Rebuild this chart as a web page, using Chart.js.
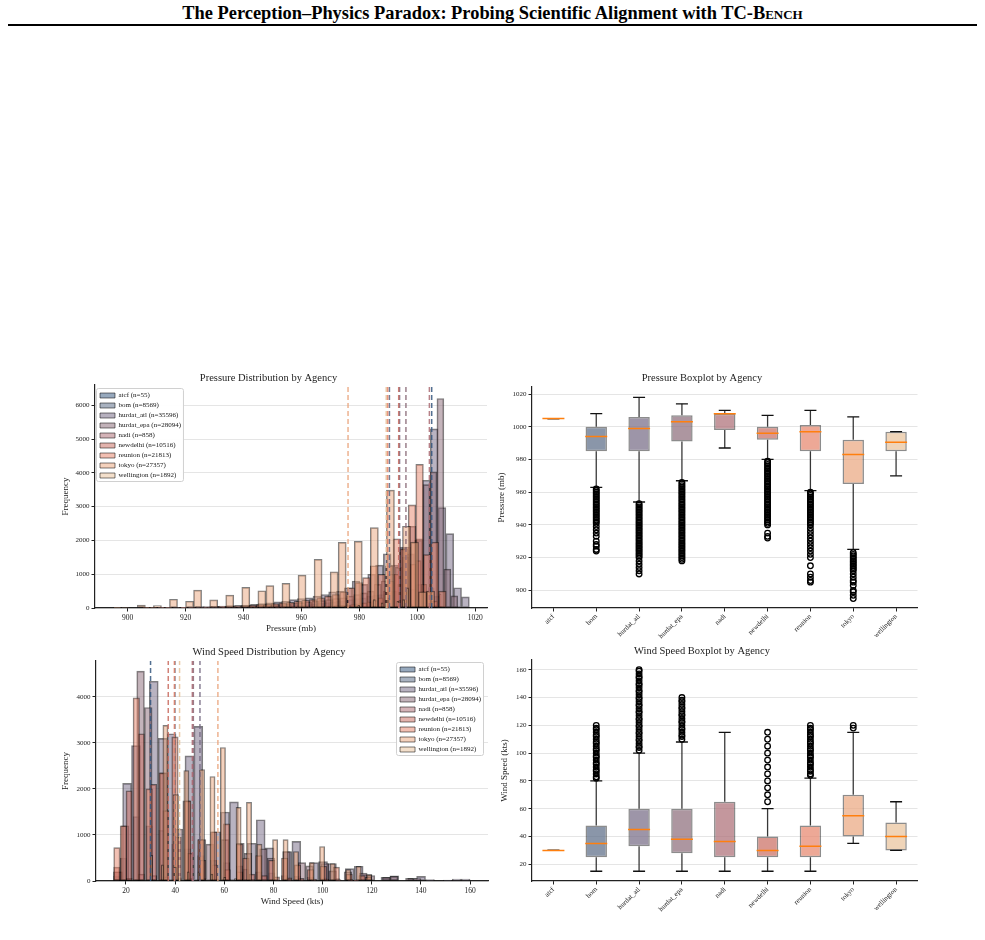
<!DOCTYPE html>
<html><head><meta charset="utf-8">
<script src="https://cdn.jsdelivr.net/npm/chart.js@4"></script>
<style>
body{margin:0;background:#fff;width:985px;height:940px;position:relative;overflow:hidden;font-family:'Liberation Serif','Times New Roman',serif}
.hdr{position:absolute;left:0;top:3px;width:985px;text-align:center;font-weight:bold;font-size:18.4px;color:#000}
.sc{font-variant:small-caps}
.rule{position:absolute;left:8px;top:24px;width:969px;height:2px;background:#000}
canvas{position:absolute}
</style></head><body>
<div class="hdr">The Perception–Physics Paradox: Probing Scientific Alignment with TC-<span class="sc">Bench</span></div>
<div class="rule"></div>
<canvas id="ph" width="445" height="277" style="left:50px;top:363px"></canvas>
<canvas id="pb" width="450" height="285" style="left:480px;top:363px"></canvas>
<canvas id="wh" width="445" height="275" style="left:50px;top:640px"></canvas>
<canvas id="wb" width="450" height="290" style="left:480px;top:640px"></canvas>
<script>
// ---------------- data ----------------
const AGENCIES=['atcf','bom','hurdat_atl','hurdat_epa','nadi','newdelhi','reunion','tokyo','wellington'];
const N_OBS=[55,8569,35596,28094,858,10516,21813,27357,1892];
const BASE=['#35577f','#586985','#746883','#8a6977','#ab6b73','#c96b5f','#e58369','#eaa57d','#e8c29a'];

// pressure histograms: first bin edge, bin width, counts per bin
const P_START=[1004.975,923,910,918,987,932,905,895,970];
const P_WIDTH=[0.025,2.125,2.7,2.4,0.575,1.875,2.625,2.775,0.675];
const P_ATCF=[0,55,0];
const P_BOM=[4,5,6,8,10,12,15,18,20,25,30,35,40,50,60,70,80,90,100,120,140,160,180,200,220,250,280,300,350,380,400,450,500,700,600,550,700,500,600,350];
const P_ATL=[8,10,15,20,30,40,45,50,60,70,80,90,110,130,150,180,200,250,280,300,350,400,480,500,600,800,700,1000,1270,1600,1270,1800,1600,2000,3780,5300,2970,2200,600,330];
const P_EPA=[8,10,15,20,25,30,35,40,45,50,60,70,80,90,100,120,140,160,180,200,220,250,280,300,350,400,450,500,700,800,1000,1200,1500,2420,2050,3650,4030,6200,1150,360];
const P_NADI=[10,0,0,0,0,15,0,0,0,0,20,0,0,30,0,0,0,0,0,100,0,0,60,0,0,0,50,0,0,60,0,0,0,80,0,0,420,0,0,13];
const P_NEWDELHI=[2,1,1,2,2,3,4,5,6,8,10,12,15,20,25,30,35,40,45,50,60,70,80,90,100,120,150,180,220,300,500,800,1000,1750,1800,1300,1400,700,500,200];
const P_REUNION=[6,8,10,12,15,20,25,30,35,40,50,55,60,75,90,100,110,130,150,170,200,230,250,300,350,400,480,600,750,900,1250,1000,1250,2050,1750,3050,4250,1580,1950,500];
const P_TOKYO=[20,15,0,90,0,70,0,260,0,200,530,0,240,0,380,0,610,0,510,660,0,730,0,975,0,1440,0,1070,1940,0,1970,0,2380,0,3490,0,2420,1950,480,500];
const P_WELLINGTON=[20,0,0,0,0,0,0,40,0,0,0,0,0,0,80,0,0,0,0,0,0,0,250,0,0,0,150,0,0,300,0,0,0,0,200,0,0,250,0,600];
const P_COUNTS=[P_ATCF,P_BOM,P_ATL,P_EPA,P_NADI,P_NEWDELHI,P_REUNION,P_TOKYO,P_WELLINGTON];
const P_MEAN=[1005.0,990.4,993.9,996.1,1004.2,993.6,989.8,976.1,989.3];

// wind histograms: counts per reported speed, per agency data range
const W_VALUES=[15,20,25,30,35,40,45,50,55,60,65,70,75,80,85,90,95,100,105,110,115,120,125,130,135,140,145,150,155,160];
const W_RANGE=[[29.5,30.5],[15,120],[15,160],[15,140],[15,115],[15,115],[15,120],[35,120],[30,65]];
const W_ATCF=[0,0,0,55,0,0,0,0,0,0,0,0,0,0,0,0,0,0,0,0,0,0,0,0,0,0,0,0,0,0];
const W_BOM=[100,500,1400,1200,1100,800,700,550,450,400,330,260,200,180,120,100,80,70,50,40,30,20,0,0,0,0,0,0,0,0];
const W_ATL=[200,2120,2940,4340,3100,3200,2720,3360,1070,1500,1720,820,1330,720,640,860,400,420,380,270,320,140,80,110,60,100,30,20,40,40];
const W_EPA=[200,1200,4560,3770,2350,1130,1740,900,800,900,820,600,700,500,640,400,330,380,220,200,170,120,80,100,60,50,0,0,0,0];
const W_NADI=[20,60,150,120,90,70,60,50,40,35,40,30,25,20,18,15,12,10,8,5,4,0,0,0,0,0,0,0,0,0];
const W_NEWDELHI=[300,1960,3200,2100,1530,950,600,450,350,250,200,150,120,90,70,60,40,40,30,20,20,0,0,0,0,0,0,0,0,0];
const W_REUNION=[725,1200,3980,2000,2350,3130,1740,900,1070,1240,800,500,550,450,500,350,250,320,300,150,120,80,0,0,0,0,0,0,0,0];
const W_TOKYO=[0,0,0,0,3380,1880,2400,2420,2270,2900,1600,1710,800,900,900,640,400,750,380,250,320,140,0,0,0,0,0,0,0,0];
const W_WELLINGTON=[0,0,0,560,350,300,200,200,150,80,50,0,0,0,0,0,0,0,0,0,0,0,0,0,0,0,0,0,0,0];
const W_COUNTS=[W_ATCF,W_BOM,W_ATL,W_EPA,W_NADI,W_NEWDELHI,W_REUNION,W_TOKYO,W_WELLINGTON];
const W_MEAN=[30.0,39.9,50.1,47.4,47.0,37.2,39.7,57.4,41.8];

// boxplot statistics
const P_LO=[1005,963,954,967,987,980,961,925,970];
const P_Q1=[1005,985,985,991,998,992,985,965,985];
const P_MED=[1005,994,999,1003,1008,996,997,983,990.5];
const P_Q3=[1005,1000,1006,1007,1008,1000,1001,992,997];
const P_HI=[1005,1008,1018,1014,1010,1007,1010,1006,997];
const P_OUT=[
  [],
  [962,961,960,959,958,957,956,955,954,953,952,951,950,949,948,947,946,945,944,943,942,941,939,937,935,933,930,928,927,925,924],
  [953,952,951,950,949,948,947,946,945,944,943,942,941,940,939,938,937,936,935,934,933,932,931,930,929,928,927,926,925,924,923,922,921,920,918,916,914,912,910],
  [966,965,964,963,962,961,960,959,958,957,956,955,954,953,952,951,950,949,948,947,946,945,944,943,942,941,940,939,938,937,936,935,934,933,932,931,930,929,928,927,926,925,924,923,922,921,920,919,918],
  [],
  [979,978,977,976,975,974,973,972,971,970,969,968,967,966,965,964,963,962,961,960,959,958,957,956,955,954,953,952,951,950,949,948,947,946,945,944,943,942,941,940,935,933,932],
  [960,959,958,957,956,955,954,953,952,951,950,949,948,947,946,945,944,943,942,941,940,938,936,934,932,930,928,926,924,922,920,915,910,908,906,905],
  [923,922,921,920,919,918,917,916,915,914,913,912,910,908,906,905,903,900,899,897,895],
  []
];
const W_LO=[30,15,15,15,15,15,15,35,30];
const W_Q1=[30,25,33,28,25,25,25,40,30];
const W_MED=[30,35,45,38,36.5,30,33,55,40];
const W_Q3=[30,48,60,60,65,40,48,70,50];
const W_HI=[30,80,100,108,115,60,82,115,65];
const W_OUT=[
  [],
  [82,83,85,87,88,90,92,93,95,97,98,100,102,103,105,107,108,110,112,113,115,117,118,120],
  [102,104,105,107,109,110,112,114,115,117,119,120,122,124,125,127,129,130,132,134,135,137,139,140,142,144,145,147,149,150,152,154,155,157,159,160],
  [110,112,113,115,117,118,120,122,123,125,127,128,130,132,133,135,137,138,140],
  [],
  [65,70,75,80,85,90,95,100,105,110,115],
  [84,85,87,88,90,92,93,95,97,98,100,102,103,105,107,108,110,112,113,115,117,118,120],
  [118,120],
  []
];

// ---------------- helpers ----------------
Chart.defaults.font.family="'Liberation Serif','Times New Roman',serif";
Chart.defaults.color='#222';
function rgba(hex,a){const n=parseInt(hex.slice(1),16);return `rgba(${n>>16},${(n>>8)&255},${n&255},${a})`;}
function binsFromEdges(start,width,counts){return counts.map((c,i)=>({x:start+(i+0.5)*width,y:c}));}
function binsFromValues(range,counts){
  const w=(range[1]-range[0])/40, bins=new Array(40).fill(0);
  W_VALUES.forEach((v,j)=>{if(!counts[j])return;let k=Math.floor((v-range[0])/w);k=Math.max(0,Math.min(39,k));bins[k]+=counts[j];});
  return bins.map((c,i)=>({x:range[0]+(i+0.5)*w,y:c}));
}
const plain=v=>String(v);

const meanLines={id:'meanLines',afterDatasetsDraw(chart,args,opts){
  if(!opts.values)return;
  const {ctx,chartArea:a}=chart, x=chart.scales.x;
  ctx.save();ctx.setLineDash([5,3]);ctx.lineWidth=1.5;
  opts.values.forEach((v,i)=>{const px=x.getPixelForValue(v);ctx.strokeStyle=rgba(BASE[i],0.85);
    ctx.beginPath();ctx.moveTo(px,a.bottom);ctx.lineTo(px,a.top);ctx.stroke();});
  ctx.restore();
}};
// legend floats inside the plot area: takes no layout space, gets a frame
const legendBox={id:'legendBox',
  beforeLayout(chart){
    const L=chart.legend;if(!L||L._floating)return;
    const up=L.update.bind(L);
    L.update=function(mw,mh,m){up(mw,mh,m);this.width=0;};
    L._floating=true;
  },
  afterLayout(chart,args,opts){
    const L=chart.legend;if(!L||!opts.place)return;
    const pad=L.options.labels.padding, w=L.columnSizes[0].width+2*pad, h=L.columnSizes[0].height+pad, a=chart.chartArea;
    L.left=opts.place==='right'?a.right-w-opts.dx:a.left+opts.dx;
    L.top=a.top+opts.dy;L.width=w;L.height=h;L.right=L.left+w;L.bottom=L.top+h;
  },
  afterDatasetsDraw(chart,args,opts){
    const L=chart.legend;if(!L||!opts.place)return;
    const ctx=chart.ctx;
    ctx.save();ctx.fillStyle='rgba(255,255,255,0.95)';ctx.strokeStyle='#d0d0d0';ctx.lineWidth=1;
    ctx.beginPath();ctx.roundRect(L.left-0.5,L.top-0.5,L.width,L.height,2);ctx.fill();ctx.stroke();ctx.restore();
    L.draw();
  }
};

function histChart(id,o){
  return new Chart(document.getElementById(id),{
    type:'bar',
    data:{datasets:AGENCIES.map((a,i)=>({label:`${a} (n=${N_OBS[i]})`,data:o.data[i],stack:'hist',
      backgroundColor:rgba(BASE[i],0.5),borderColor:'rgba(0,0,0,0.5)',borderWidth:1,borderSkipped:false,
      barThickness:'flex',barPercentage:1,categoryPercentage:1,order:9-i}))},
    options:{responsive:false,animation:false,events:[],
      layout:{padding:{left:0,right:o.padR,top:0,bottom:0}},
      scales:{
        x:{type:'linear',min:o.xMin,max:o.xMax,stacked:true,offset:false,
          ticks:{stepSize:20,includeBounds:false,font:{size:7.5},padding:2,callback:plain},
          grid:{drawOnChartArea:false,offset:false,tickLength:3.5,tickColor:'#222'},
          border:{color:'#222',width:1.2},
          title:{display:true,text:o.xTitle,font:{size:9},padding:{top:0,bottom:o.xTitlePad}},
          afterFit:s=>{s.height=o.xH;}},
        y:{type:'linear',beginAtZero:true,max:o.yMax,stacked:false,
          ticks:{stepSize:1000,includeBounds:false,font:{size:7},padding:2,callback:plain},
          grid:{color:'rgba(0,0,0,0.1)',tickColor:'#222',tickLength:3.5},
          border:{color:'#222',width:1.2},
          title:{display:true,text:'Frequency',font:{size:9},padding:{top:o.yTitlePad,bottom:0}},
          afterFit:s=>{s.width=o.yW;}}
      },
      plugins:{
        title:{display:true,text:o.title,font:{size:10.5,weight:'normal'},color:'#222',padding:o.titlePad},
        legend:{position:'left',align:'start',
          labels:{font:{size:7},boxWidth:15,boxHeight:5,padding:3,color:'#222',
            sort:(a,b)=>a.datasetIndex-b.datasetIndex}},
        tooltip:{enabled:false},
        meanLines:{values:o.means},
        legendBox:o.legend
      }},
    plugins:[meanLines,legendBox]
  });
}

function boxChart(id,o){
  const fill=BASE.map(c=>rgba(c,0.7));
  const outliers=[];
  o.out.forEach((list,i)=>list.forEach(v=>outliers.push({x:AGENCIES[i],y:v})));
  const whisk=(lo,hi)=>({type:'bar',data:AGENCIES.map((a,i)=>[lo[i],hi[i]]),backgroundColor:'rgba(20,20,20,0.85)',
    barPercentage:0.03,categoryPercentage:1,grouped:false,order:5});
  const cap=d=>({type:'line',data:d,showLine:false,pointStyle:'line',pointRadius:6,pointBorderColor:'#111',pointBorderWidth:1.3,order:3});
  return new Chart(document.getElementById(id),{
    type:'bar',
    data:{labels:AGENCIES,datasets:[
      whisk(o.lo,o.q1),whisk(o.q3,o.hi),
      {type:'bar',data:AGENCIES.map((a,i)=>[o.q1[i],o.q3[i]]),backgroundColor:fill,borderColor:'rgba(0,0,0,0.45)',
        borderWidth:1.5,borderSkipped:false,barPercentage:0.5,categoryPercentage:1,grouped:false,order:4},
      cap(o.lo),cap(o.hi),
      {type:'line',data:o.med,showLine:false,pointStyle:'line',pointRadius:11,pointBorderColor:'#ff7f0e',pointBorderWidth:1.5,order:2},
      {type:'line',data:outliers,showLine:false,pointStyle:'circle',pointRadius:2.8,pointBorderWidth:1.3,
        pointBorderColor:'#000',pointBackgroundColor:'rgba(255,255,255,0)',order:1}
    ]},
    options:{responsive:false,animation:false,events:[],
      layout:{padding:{left:0,right:o.padR,top:0,bottom:0}},
      scales:{
        x:{type:'category',offset:true,
          ticks:{maxRotation:45,minRotation:45,autoSkip:false,font:{size:7},padding:1},
          grid:{drawOnChartArea:false,offset:false,tickLength:3.5,tickColor:'#222'},
          border:{color:'#222',width:1.2},
          afterFit:s=>{s.height=o.xH;}},
        y:{type:'linear',min:o.yMin,max:o.yMax,
          ticks:{stepSize:20,includeBounds:false,font:{size:7},padding:2,callback:plain},
          grid:{color:'rgba(0,0,0,0.1)',tickColor:'#222',tickLength:3.5},
          border:{color:'#222',width:1.2},
          title:{display:true,text:o.yTitle,font:{size:9},padding:{top:o.yTitlePad,bottom:0}},
          afterFit:s=>{s.width=o.yW;}}
      },
      plugins:{
        title:{display:true,text:o.title,font:{size:10.5,weight:'normal'},color:'#222',padding:o.titlePad},
        legend:{display:false},tooltip:{enabled:false}
      }}
  });
}

// ---------------- charts ----------------
histChart('ph',{title:'Pressure Distribution by Agency',xTitle:'Pressure (mb)',
  data:AGENCIES.map((a,i)=>binsFromEdges(P_START[i],P_WIDTH[i],P_COUNTS[i])),means:P_MEAN,
  xMin:888.7,xMax:1024.1,yMax:6600,yW:45,xH:32,padR:8,xTitlePad:5.6,yTitlePad:10.6,
  titlePad:{top:8.7,bottom:0.7},legend:{place:'left',dx:2,dy:4}});
histChart('wh',{title:'Wind Speed Distribution by Agency',xTitle:'Wind Speed (kts)',
  data:AGENCIES.map((a,i)=>binsFromValues(W_RANGE[i],W_COUNTS[i])),means:W_MEAN,
  xMin:7.8,xMax:167.3,yMax:4780,yW:46,xH:34,padR:7,xTitlePad:7.9,yTitlePad:10.6,
  titlePad:{top:5.7,bottom:2.7},legend:{place:'right',dx:4,dy:2}});
boxChart('pb',{title:'Pressure Boxplot by Agency',yTitle:'Pressure (mb)',
  lo:P_LO,q1:P_Q1,med:P_MED,q3:P_Q3,hi:P_HI,out:P_OUT,
  yMin:889.2,yMax:1024.3,yW:52,xH:40,padR:6,yTitlePad:16.6,titlePad:{top:8.7,bottom:2.7}});
boxChart('wb',{title:'Wind Speed Boxplot by Agency',yTitle:'Wind Speed (kts)',
  lo:W_LO,q1:W_Q1,med:W_MED,q3:W_Q3,hi:W_HI,out:W_OUT,
  yMin:8,yMax:167,yW:52,xH:49,padR:6,yTitlePad:19.6,titlePad:{top:5.4,bottom:2}});
</script>
</body></html>
